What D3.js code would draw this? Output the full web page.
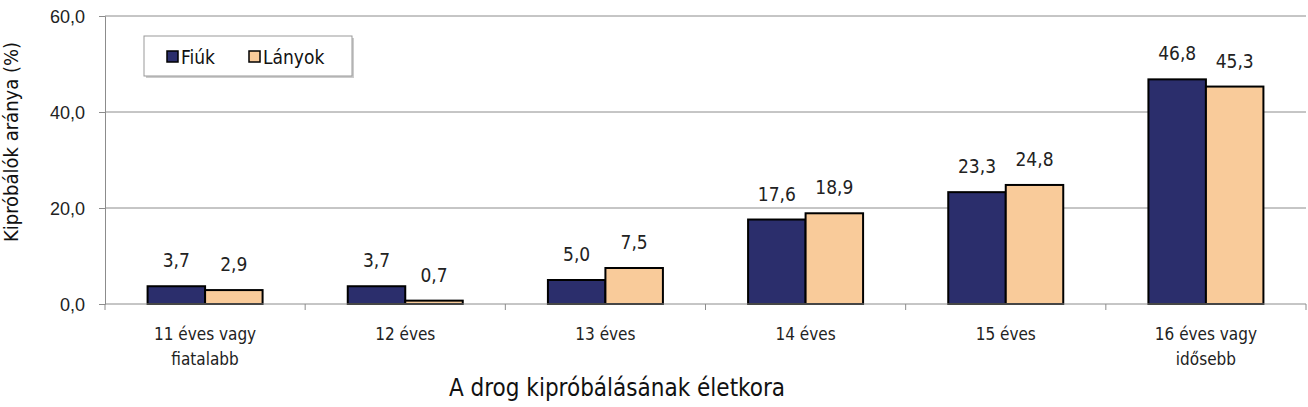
<!DOCTYPE html>
<html lang="hu">
<head>
  <meta charset="UTF-8">
  <title>Kipróbálók aránya</title>
  <style>
    body{ margin:0; background:#fff; }
    svg{ display:block; font-family:"Liberation Sans Narrow","DejaVu Sans Condensed",sans-serif; }
    .grid line{ stroke:#8c8c8c; stroke-width:1px; }
    .axis path, .axis line{ stroke:#8c8c8c; }
    .axis text{ fill:#222; }
  </style>
</head>
<body>
<svg id="chart" width="1308" height="407"></svg>
<script src="https://cdn.jsdelivr.net/npm/d3@7"></script>
<script>
  "use strict";

  var
    categories = [["11 éves vagy","fiatalabb"],["12 éves"],["13 éves"],["14 éves"],["15 éves"],["16 éves vagy","idősebb"]],
    fiuk = [3.7, 3.7, 5.0, 17.6, 23.3, 46.8],
    lanyok = [2.9, 0.7, 7.5, 18.9, 24.8, 45.3],
    seriesNames = ["Fiúk", "Lányok"],
    yTicks = [0, 20, 40, 60];

  var colors = ["#2b2e6c", "#f9cb9a"];
  var pLeft = 105, pRight = 1306, pTop = 16, pBottom = 304;
  var svg = d3.select("#chart");

  var x = d3.scaleBand().domain(d3.range(categories.length)).range([pLeft, pRight]);
  var xs = d3.scaleBand().domain([0, 1]).range([0, 115]);
  var y = d3.scaleLinear().domain([0, 60]).range([pBottom, pTop]);
  var fmt = function(v){ return d3.format(".1f")(v).replace(".", ","); };

  // gridlines
  svg.append("g").attr("class","grid")
    .selectAll("line").data(yTicks.slice(1)).enter().append("line")
    .attr("x1", pLeft).attr("x2", pRight)
    .attr("y1", function(d){ return y(d); }).attr("y2", function(d){ return y(d); });

  // y axis
  var yAxis = svg.append("g").attr("class","axis")
    .attr("transform","translate(" + pLeft + ",0)")
    .call(d3.axisLeft(y).tickValues(yTicks).tickSize(6).tickPadding(14).tickFormat(fmt));
  yAxis.selectAll("text").attr("font-size","18px").attr("dy","0.35em");

  // bars
  var data = [];
  categories.forEach(function(c, i){
    data.push({i:i, s:0, v:fiuk[i]});
    data.push({i:i, s:1, v:lanyok[i]});
  });

  svg.append("g").selectAll("rect").data(data).enter().append("rect")
    .attr("x", function(d){ return x(d.i) + x.bandwidth()/2 - 57.5 + xs(d.s); })
    .attr("y", function(d){ return y(d.v); })
    .attr("width", xs.bandwidth())
    .attr("height", function(d){ return y(0) - y(d.v); })
    .attr("fill", function(d){ return colors[d.s]; })
    .attr("stroke", "#000").attr("stroke-width", 2);

  svg.append("g").selectAll("text").data(data).enter().append("text")
    .attr("x", function(d){ return x(d.i) + x.bandwidth()/2 - 57.5 + xs(d.s) + xs.bandwidth()/2; })
    .attr("y", function(d){ return y(d.v) - 19; })
    .attr("text-anchor","middle").attr("font-size","19px").attr("fill","#222")
    .text(function(d){ return fmt(d.v); });

  // x axis
  svg.append("line").attr("x1", pLeft).attr("x2", pRight).attr("y1", pBottom).attr("y2", pBottom)
    .attr("stroke","#8c8c8c");
  svg.append("g").selectAll("line").data(d3.range(categories.length + 1)).enter().append("line")
    .attr("x1", function(d){ return pLeft + d * x.step(); })
    .attr("x2", function(d){ return pLeft + d * x.step(); })
    .attr("y1", pBottom).attr("y2", pBottom + 6).attr("stroke","#8c8c8c");

  var xl = svg.append("g").selectAll("text").data(categories).enter().append("text")
    .attr("x", function(d, i){ return x(i) + x.bandwidth()/2; })
    .attr("y", 340).attr("text-anchor","middle").attr("font-size","17px").attr("fill","#222");
  xl.selectAll("tspan").data(function(d){ return d; }).enter().append("tspan")
    .attr("x", function(){ return d3.select(this.parentNode).attr("x"); })
    .attr("dy", function(d, j){ return j ? 25 : 0; })
    .text(function(d){ return d; });

  // axis titles
  svg.append("text").attr("x", 617).attr("y", 396).attr("text-anchor","middle")
    .attr("font-size","24px").attr("fill","#111").text("A drog kipróbálásának életkora");
  svg.append("text").attr("transform","translate(18,142) rotate(-90)").attr("text-anchor","middle")
    .attr("font-size","20px").attr("fill","#111").text("Kipróbálók aránya (%)");

  // legend
  var lg = svg.append("g");
  lg.append("rect").attr("x",146).attr("y",38).attr("width",208).attr("height",40).attr("fill","#ccc");
  lg.append("rect").attr("x",144).attr("y",36).attr("width",208).attr("height",40)
    .attr("fill","#fff").attr("stroke","#999");
  var lx = [167, 249];
  seriesNames.forEach(function(n, i){
    lg.append("rect").attr("x", lx[i]).attr("y", 51).attr("width", 11).attr("height", 11)
      .attr("fill", colors[i]).attr("stroke","#000").attr("stroke-width",1.5);
    lg.append("text").attr("x", lx[i] + 14).attr("y", 64).attr("font-size","19px").attr("fill","#111").text(n);
  });
</script>
</body>
</html>
